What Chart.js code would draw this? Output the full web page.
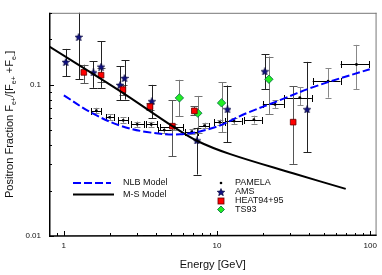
<!DOCTYPE html>
<html>
<head>
<meta charset="utf-8">
<script src="https://cdn.jsdelivr.net/npm/chart.js@4.4.0/dist/chart.umd.min.js"></script>
<style>
  html, body { margin: 0; padding: 0; background: #fff; }
</style>
</head>
<body>
<canvas id="chart" width="382" height="275"></canvas>
<script>
// ---- data ----
const pamelaE   = [1.63, 1.99, 2.44, 3.01, 3.72, 4.52, 5.25, 6.84, 8.29, 10.4, 12.9, 17.4, 23.9, 34.7, 53.1, 81.3];
const pamelaF   = [0.0675, 0.0610, 0.0583, 0.0548, 0.0547, 0.0502, 0.0528, 0.0490, 0.0538, 0.0565, 0.0577, 0.0589, 0.0743, 0.0824, 0.1057, 0.1365];
const pamelaElo = [1.51, 1.88, 2.26, 2.75, 3.45, 4.13, 4.25, 6.19, 7.52, 9.56, 11.3, 15.0, 19.9, 27.3, 42.1, 64.0];
const pamelaEhi = [1.75, 2.14, 2.63, 3.35, 4.06, 5.09, 6.0, 7.52, 8.87, 11.3, 14.5, 19.6, 27.3, 41.6, 64.0, 98.2];
const pamelaFlo = [0.065, 0.0585, 0.056, 0.0525, 0.0525, 0.048, 0.0505, 0.047, 0.0515, 0.054, 0.055, 0.0555, 0.070, 0.0735, 0.0824, 0.094];
const pamelaFhi = [0.0705, 0.0637, 0.061, 0.0572, 0.057, 0.0525, 0.0552, 0.0512, 0.0562, 0.059, 0.0603, 0.0625, 0.079, 0.0967, 0.129, 0.184];

const amsE   = [1.03, 1.25, 1.56, 1.75, 2.33, 2.49, 3.75, 7.38, 11.7, 20.5, 38.7];
const amsF   = [0.142, 0.208, 0.121, 0.132, 0.100, 0.111, 0.078, 0.0429, 0.069, 0.123, 0.069];
const amsFlo = [0.114, 0.109, 0.0957, 0.0957, 0.079, 0.080, 0.060, 0.0255, 0.0416, 0.094, 0.0357];
const amsFhi = [0.173, 0.35, 0.143, 0.195, 0.133, 0.146, 0.100, 0.052, 0.099, 0.160, 0.142];

const heatE   = [1.35, 1.75, 2.43, 3.65, 5.11, 7.11, 31.4];
const heatF   = [0.121, 0.116, 0.093, 0.0718, 0.0533, 0.0673, 0.0567];
const heatFlo = [0.103, 0.104, 0.086, 0.068, 0.0338, 0.063, 0.030];
const heatFhi = [0.136, 0.130, 0.100, 0.076, 0.079, 0.072, 0.098];

const tsE   = [5.68, 7.49, 10.7, 21.8];
const tsF   = [0.082, 0.065, 0.076, 0.109];
const tsFlo = [0.062, 0.048, 0.0488, 0.0643];
const tsFhi = [0.108, 0.0845, 0.104, 0.154];

const msE = [0.8, 2.37, 5.11, 7.38, 12.2, 31.3, 69.2];
const msF = [0.180, 0.090, 0.0534, 0.0427, 0.0348, 0.026, 0.0205];

const nlbE = [1.0, 1.53, 2.33, 3.48, 5.74, 9.46, 15.6, 25.7, 42.4, 99.3];
const nlbF = [0.0853, 0.065, 0.0538, 0.0488, 0.0471, 0.052, 0.065, 0.0792, 0.0967, 0.127];

const xTicks = [0.9, 1, 2, 3, 4, 5, 6, 7, 8, 9, 10, 20, 30, 40, 50, 60, 70, 80, 90, 100];
const xLabels = [1, 10, 100];
const yTicks = [0.01, 0.02, 0.03, 0.04, 0.05, 0.06, 0.07, 0.08, 0.09, 0.1, 0.2, 0.3];
const yLabels = [0.01, 0.1];

const pts = (xs, ys) => xs.map((x, i) => ({ x: x, y: ys[i] }));

// filled star marker for AMS
function makeStar(size, fill) {
  const c = document.createElement('canvas');
  c.width = c.height = size;
  const g = c.getContext('2d');
  const R = size / 2, r = R * 0.45;
  g.beginPath();
  for (let i = 0; i < 10; i++) {
    const a = -Math.PI / 2 + i * Math.PI / 5;
    const rr = i % 2 ? r : R;
    g.lineTo(R + rr * Math.cos(a), R + 0.5 + rr * Math.sin(a));
  }
  g.closePath();
  g.fillStyle = fill;
  g.fill();
  g.strokeStyle = '#000030';
  g.lineWidth = 0.6;
  g.stroke();
  return c;
}
const star = makeStar(8, '#101080');

// error bars, frame, ticks, titles, legends
const decor = {
  id: 'decor',
  beforeDatasetsDraw(chart) {
    const ctx = chart.ctx, xs = chart.scales.x, ys = chart.scales.y, a = chart.chartArea;
    ctx.save();
    ctx.beginPath();
    ctx.rect(a.left, a.top, a.right - a.left, a.bottom - a.top);
    ctx.clip();
    ctx.lineWidth = 1;
    chart.data.datasets.forEach(ds => {
      if (!ds.errFlo) return;
      ds.data.forEach((p, i) => {
        const px = Math.round(xs.getPixelForValue(p.x)) + 0.5;
        const py = Math.round(ys.getPixelForValue(p.y)) + 0.5;
        const lo = ys.getPixelForValue(ds.errFlo[i]);
        const hi = ys.getPixelForValue(ds.errFhi[i]);
        ctx.strokeStyle = ds.errColor;
        const cw = ds.capW;
        ctx.beginPath();
        ctx.moveTo(px, lo); ctx.lineTo(px, hi);
        ctx.moveTo(px - cw, Math.round(lo) + 0.5); ctx.lineTo(px + cw, Math.round(lo) + 0.5);
        ctx.moveTo(px - cw, Math.round(hi) + 0.5); ctx.lineTo(px + cw, Math.round(hi) + 0.5);
        ctx.stroke();
        if (ds.errElo) {
          const l = xs.getPixelForValue(ds.errElo[i]);
          const r = xs.getPixelForValue(ds.errEhi[i]);
          ctx.strokeStyle = '#000';
          ctx.beginPath();
          ctx.moveTo(l, py); ctx.lineTo(r, py);
          ctx.moveTo(Math.round(l) + 0.5, py - 3.5); ctx.lineTo(Math.round(l) + 0.5, py + 3.5);
          ctx.moveTo(Math.round(r) + 0.5, py - 3.5); ctx.lineTo(Math.round(r) + 0.5, py + 3.5);
          ctx.stroke();
        }
      });
    });
    ctx.restore();
  },
  afterDraw(chart) {
    const ctx = chart.ctx, xs = chart.scales.x, ys = chart.scales.y, a = chart.chartArea;
    ctx.save();
    // frame
    ctx.strokeStyle = '#777';
    ctx.lineWidth = 1;
    ctx.beginPath();
    ctx.moveTo(a.left, a.top + 0.5); ctx.lineTo(a.right, a.top + 0.5);
    ctx.moveTo(a.right - 0.5, a.top); ctx.lineTo(a.right - 0.5, a.bottom);
    ctx.stroke();
    ctx.strokeStyle = '#000';
    ctx.lineWidth = 1.5;
    ctx.beginPath();
    ctx.moveTo(a.left + 0.75, a.top); ctx.lineTo(a.left + 0.75, a.bottom);
    ctx.lineTo(a.right, a.bottom - 0.75);
    ctx.stroke();
    // inward ticks
    ctx.lineWidth = 1;
    ctx.beginPath();
    xTicks.forEach(v => {
      const px = Math.round(xs.getPixelForValue(v)) + 0.5;
      const len = xLabels.includes(v) ? 5 : 3;
      ctx.moveTo(px, a.bottom); ctx.lineTo(px, a.bottom - len);
    });
    yTicks.forEach(v => {
      const py = Math.round(ys.getPixelForValue(v)) + 0.5;
      const len = yLabels.includes(v) ? 5 : 3;
      ctx.moveTo(a.left, py); ctx.lineTo(a.left + len, py);
    });
    ctx.stroke();

    // axis titles
    ctx.fillStyle = '#111';
    ctx.font = '11px "Liberation Sans", Arial, sans-serif';
    ctx.textAlign = 'center';
    ctx.textBaseline = 'middle';
    ctx.fillText('Energy [GeV]', (a.left + a.right) / 2, 265);

    const parts = [
      ['Positron Fraction F', 0], ['e+', 1], ['/[F', 0], ['e+', 1], [' +F', 0], ['e-', 1], [']', 0]
    ];
    const mainFont = '11px "Liberation Sans", Arial, sans-serif';
    const subFont = '7px "Liberation Sans", Arial, sans-serif';
    let total = 0;
    parts.forEach(p => { ctx.font = p[1] ? subFont : mainFont; total += ctx.measureText(p[0]).width; });
    ctx.translate(13, (a.top + a.bottom) / 2);
    ctx.rotate(-Math.PI / 2);
    ctx.textAlign = 'left';
    ctx.textBaseline = 'alphabetic';
    let cx = -total / 2;
    parts.forEach(p => {
      ctx.font = p[1] ? subFont : mainFont;
      ctx.fillText(p[0], cx, p[1] ? 3 : 0);
      cx += ctx.measureText(p[0]).width;
    });
    ctx.setTransform(1, 0, 0, 1, 0, 0);

    // model legend
    ctx.font = '9px "Liberation Sans", Arial, sans-serif';
    ctx.textBaseline = 'middle';
    ctx.lineWidth = 2;
    ctx.strokeStyle = '#0000ff';
    ctx.setLineDash([8, 3]);
    ctx.beginPath(); ctx.moveTo(73, 183); ctx.lineTo(111, 183); ctx.stroke();
    ctx.setLineDash([]);
    ctx.strokeStyle = '#000';
    ctx.beginPath(); ctx.moveTo(73, 194.5); ctx.lineTo(114, 194.5); ctx.stroke();
    ctx.fillStyle = '#111';
    ctx.fillText('NLB Model', 123, 183);
    ctx.fillText('M-S Model', 123, 194.5);

    // data legend
    const lx = 221;
    ctx.fillStyle = '#000';
    ctx.beginPath(); ctx.arc(lx, 183, 1.3, 0, Math.PI * 2); ctx.fill();
    ctx.drawImage(star, lx - 4, 192 - 4);
    ctx.fillStyle = '#ff0000'; ctx.strokeStyle = '#600'; ctx.lineWidth = 0.8;
    ctx.fillRect(lx - 3, 198, 6, 6); ctx.strokeRect(lx - 3, 198, 6, 6);
    ctx.fillStyle = '#22ee22'; ctx.strokeStyle = '#064';
    ctx.beginPath();
    ctx.moveTo(lx, 206); ctx.lineTo(lx + 3.5, 209.5); ctx.lineTo(lx, 213); ctx.lineTo(lx - 3.5, 209.5);
    ctx.closePath(); ctx.fill(); ctx.stroke();
    ctx.fillStyle = '#111';
    ctx.fillText('PAMELA', 235, 183);
    ctx.fillText('AMS', 235, 192);
    ctx.fillText('HEAT94+95', 235, 201);
    ctx.fillText('TS93', 235, 210);
    ctx.restore();
  }
};

new Chart(document.getElementById('chart'), {
  type: 'scatter',
  data: {
    datasets: [
      {
        label: 'NLB Model', type: 'line', data: pts(nlbE, nlbF),
        borderColor: '#0000ff', borderWidth: 2, borderDash: [8, 3],
        pointRadius: 0, fill: false, tension: 0.35
      },
      {
        label: 'M-S Model', type: 'line', data: pts(msE, msF),
        borderColor: '#000', borderWidth: 2,
        pointRadius: 0, fill: false, tension: 0.35
      },
      {
        label: 'PAMELA', data: pts(pamelaE, pamelaF),
        pointStyle: 'circle', pointRadius: 1.4, backgroundColor: '#000', borderWidth: 0,
        errFlo: pamelaFlo, errFhi: pamelaFhi, errElo: pamelaElo, errEhi: pamelaEhi,
        errColor: '#888', capW: 3
      },
      {
        label: 'HEAT94+95', data: pts(heatE, heatF),
        pointStyle: 'rect', pointRadius: 4, backgroundColor: '#ff0000', borderColor: '#600', borderWidth: 0.8,
        errFlo: heatFlo, errFhi: heatFhi, errColor: '#555', capW: 4
      },
      {
        label: 'TS93', data: pts(tsE, tsF),
        pointStyle: 'rectRot', pointRadius: 4.2, backgroundColor: '#22ee22', borderColor: '#064', borderWidth: 0.8,
        errFlo: tsFlo, errFhi: tsFhi, errColor: '#777', capW: 4
      },
      {
        label: 'AMS', data: pts(amsE, amsF),
        pointStyle: star, pointRadius: 4,
        errFlo: amsFlo, errFhi: amsFhi, errColor: '#222', capW: 4
      }
    ]
  },
  options: {
    responsive: false,
    animation: false,
    events: [],
    layout: { padding: { top: 7, right: 5, left: 0, bottom: 0 } },
    plugins: { legend: { display: false }, tooltip: { enabled: false } },
    scales: {
      x: {
        type: 'logarithmic', min: 0.8, max: 110,
        grid: { display: false, drawTicks: false },
        border: { display: false },
        afterBuildTicks: s => { s.ticks = xTicks.map(v => ({ value: v })); },
        afterFit: s => { s.height = 39; },
        ticks: {
          autoSkip: false, maxRotation: 0, padding: 5, color: '#111',
          font: { family: '"Liberation Sans", Arial, sans-serif', size: 8 },
          callback: v => xLabels.includes(v) ? String(v) : ''
        }
      },
      y: {
        type: 'logarithmic', min: 0.01, max: 0.3,
        grid: { display: false, drawTicks: false },
        border: { display: false },
        afterBuildTicks: s => { s.ticks = yTicks.map(v => ({ value: v })); },
        afterFit: s => { s.width = 49; },
        ticks: {
          autoSkip: false, padding: 8, color: '#111',
          font: { family: '"Liberation Sans", Arial, sans-serif', size: 8 },
          callback: v => yLabels.includes(v) ? String(v) : ''
        }
      }
    }
  },
  plugins: [decor]
});
</script>
</body>
</html>
